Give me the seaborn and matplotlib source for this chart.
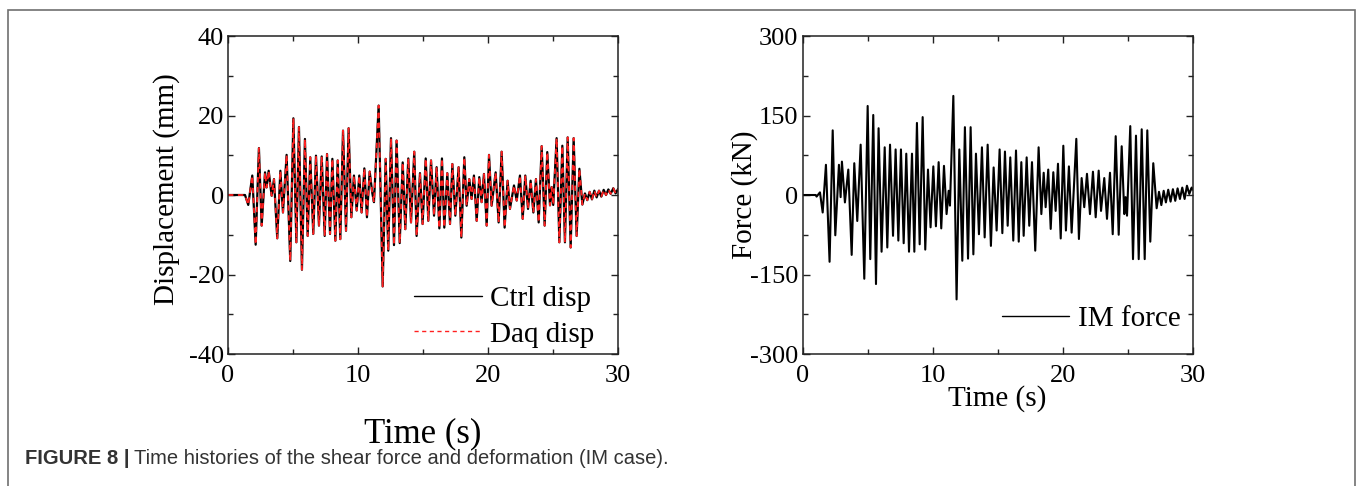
import matplotlib
matplotlib.use("Agg")
import matplotlib.pyplot as plt
import seaborn as sns
from matplotlib.patches import Rectangle
from matplotlib.ticker import MultipleLocator

# displacement history, peaks (s, mm)
disp_time = [0, 1.31, 1.56, 1.87, 2.13, 2.38, 2.59, 2.85, 2.97, 3.13, 3.36, 3.54, 3.79, 4.03, 4.23,
             4.51, 4.79, 5.03, 5.26, 5.46, 5.69, 5.92, 6.13, 6.33, 6.56, 6.77, 7.0, 7.21, 7.44, 7.62,
             7.85, 8.03, 8.26, 8.44, 8.64, 8.85, 9.08, 9.28, 9.49, 9.69, 9.9, 10.1, 10.28, 10.49, 10.69,
             10.9, 11.1, 11.23, 11.59, 11.9, 12.13, 12.33, 12.54, 12.77, 12.97, 13.21, 13.44, 13.64,
             13.87, 14.08, 14.33, 14.51, 14.77, 14.97, 15.21, 15.41, 15.62, 15.85, 16.05, 16.26, 16.46,
             16.64, 16.87, 17.08, 17.26, 17.49, 17.74, 17.95, 18.18, 18.36, 18.56, 18.74, 18.92, 19.13,
             19.33, 19.51, 19.69, 19.9, 20.08, 20.28, 20.59, 20.82, 21.05, 21.28, 21.51, 21.69, 22.0,
             22.21, 22.46, 22.67, 22.87, 23.08, 23.28, 23.49, 23.69, 23.9, 24.13, 24.36, 24.56, 24.77,
             24.9, 25.02, 25.28, 25.49, 25.72, 25.92, 26.13, 26.36, 26.59, 26.82, 27.03, 27.26, 27.46,
             27.64, 27.82, 28.0, 28.18, 28.36, 28.54, 28.72, 28.9, 29.08, 29.26, 29.44, 29.64, 29.82, 30.0]
ctrl_disp = [0, 0, -2.5, 4.9, -12.5, 11.8, -7.7, 5.7, 1.9, 6.1, -0.2, 4.0, -10.9, 6.1, -4.4,
             10.1, -16.6, 19.3, -11.9, 17.1, -18.8, 14.1, -10.3, 9.5, -9.8, 9.9, -7.7, 9.7, -10.3, 10.3,
             -9.8, 9.1, -11.5, 8.7, -11.1, 16.2, -9.0, 16.8, -5.6, 4.9, -3.9, 4.9, -4.4, 6.7, -5.6,
             5.9, 0.5, -1.8, 22.5, -23.0, 9.1, -14.0, 14.3, -12.6, 13.7, -12.1, 8.2, -8.6,
             9.2, -6.9, 10.9, -10.3, 5.5, -7.3, 9.2, -6.5, 8.7, -5.2, 7.0, -8.4, 9.2,
             -8.2, 5.5, -7.3, 7.8, -5.2, 7.0, -10.7, 9.5, -2.7, 4.0, -1.0, 4.9, -6.5,
             4.5, -1.8, 5.3, -7.7, 10.1, -2.7, 5.7, -6.9, 10.9, -8.2, 3.6, -3.5, 2.4,
             -1.4, 4.9, -6.0, 4.9, -3.5, 3.6, -4.4, 4.0, -6.9, 12.3, -7.7, 10.8, -2.6,
             2.0, -2.5, 14.3, -11.9, 12.4, -11.9, 14.5, -13.2, 14.3, -10.3, 6.6, -2.4, 0.4,
             -1.3, 0.8, -1.1, 1.1, -0.6, 1.1, -0.4, 1.3, 0.0, 1.4, 0.3, 1.7, 0.4, 1.5]
daq_disp = list(ctrl_disp)  # measured trace sits on top of the command

# force history, peaks (s, kN)
force_time = [0, 1.0, 1.07, 1.33, 1.54, 1.79, 2.07, 2.31, 2.51, 2.79, 2.92, 3.02, 3.25, 3.51, 3.77,
              3.97, 4.2, 4.46, 4.74, 5.0, 5.2, 5.43, 5.64, 5.84, 6.07, 6.31, 6.51, 6.72, 6.95, 7.15,
              7.36, 7.56, 7.77, 7.97, 8.18, 8.41, 8.59, 8.79, 9.0, 9.23, 9.43, 9.64, 9.84, 10.05, 10.25,
              10.46, 10.66, 10.87, 11.07, 11.23, 11.33, 11.59, 11.84, 12.05, 12.28, 12.48, 12.72, 12.92,
              13.13, 13.33, 13.56, 13.79, 14.0, 14.23, 14.48, 14.69, 14.92, 15.15, 15.36, 15.56, 15.77,
              15.97, 16.2, 16.41, 16.62, 16.82, 17.0, 17.23, 17.43, 17.64, 17.89, 18.15, 18.36, 18.54,
              18.69, 18.89, 19.08, 19.28, 19.46, 19.64, 19.85, 20.05, 20.25, 20.48, 20.69, 21.05, 21.25,
              21.46, 21.66, 21.87, 22.1, 22.33, 22.54, 22.77, 22.95, 23.2, 23.41, 23.64, 23.85, 24.08,
              24.31, 24.54, 24.74, 24.84, 24.95, 25.2, 25.41, 25.64, 25.85, 26.08, 26.31, 26.51, 26.74,
              26.97, 27.23, 27.41, 27.59, 27.77, 27.94, 28.12, 28.3, 28.48, 28.66, 28.84, 29.02, 29.2,
              29.38, 29.56, 29.74, 29.92, 30.0]
im_force = [0, 0, -3, 5, -33, 57, -126, 122, -76, 57, -4, 63, -14, 48, -113,
            60, -49, 95, -158, 168, -121, 151, -168, 126, -107, 90, -99, 95, -77, 86,
            -86, 86, -91, 78, -107, 78, -107, 136, -93, 147, -103, 48, -61, 54, -59,
            62, -63, 55, -36, 8, -20, 187, -197, 86, -124, 128, -120, 128,
            -112, 78, -74, 90, -80, 95, -96, 52, -67, 86, -72, 82, -58,
            71, -86, 84, -88, 62, -77, 71, -58, 62, -105, 90, -36, 42,
            -23, 48, -64, 43, -30, 59, -82, 93, -67, 54, -71, 106, -83,
            32, -23, 40, -36, 44, -42, 46, -30, 32, -45, 42, -74, 111,
            -75, 92, -36, -4, -39, 130, -121, 112, -121, 124, -121, 122, -88,
            60, -25, 6, -19, 8, -14, 10, -12.5, 11, -11, 12.5, -7.5, 14,
            -7.5, 17.5, 2, 14, 10]

sns.set_style("ticks")
plt.rcParams["font.family"] = ["Liberation Serif", "DejaVu Serif"]
plt.rcParams["axes.unicode_minus"] = False
plt.rcParams["text.color"] = "black"
plt.rcParams["axes.labelcolor"] = "black"

fig = plt.figure(figsize=(13.57, 4.86), dpi=100)
ax1 = fig.add_axes([0.168, 0.2716, 0.2874, 0.6543])
ax2 = fig.add_axes([0.5915, 0.2716, 0.2874, 0.6543])

sns.lineplot(x=disp_time, y=ctrl_disp, ax=ax1, color="black", lw=1.6, label="Ctrl disp", estimator=None)
sns.lineplot(x=disp_time, y=daq_disp, ax=ax1, color="#ff2020", lw=1.3, linestyle="--",
             label="Daq disp", estimator=None)
ax1.lines[-1].set_dashes((3, 2.5))
sns.lineplot(x=force_time, y=im_force, ax=ax2, color="black", lw=1.5, label="IM force", estimator=None)

for ax, lim, major, minor in [(ax1, 40, 20, 10), (ax2, 300, 150, 75)]:
    ax.set_xlim(0, 30)
    ax.set_ylim(-lim, lim)
    ax.xaxis.set_major_locator(MultipleLocator(10))
    ax.xaxis.set_minor_locator(MultipleLocator(5))
    ax.yaxis.set_major_locator(MultipleLocator(major))
    ax.yaxis.set_minor_locator(MultipleLocator(minor))
    ax.tick_params(which="both", direction="in", top=True, right=True, colors="#222222",
                   labelcolor="black", width=1.0)
    ax.tick_params(which="major", length=5, labelsize=19)
    ax.tick_params(axis="x", which="major", pad=8)
    ax.tick_params(axis="y", which="major", pad=3)
    ax.tick_params(which="minor", length=3.5)
    for sp in ax.spines.values():
        sp.set_linewidth(1.1)
        sp.set_color("#222222")

ax1.set_xlabel("Time (s)", fontsize=25, va="center")
ax1.xaxis.set_label_coords(0.5, -0.25)
ax1.set_ylabel("Displacement (mm)", fontsize=21, va="center")
ax1.yaxis.set_label_coords(-0.158, 0.52)

ax2.set_xlabel("Time (s)", fontsize=21, va="center")
ax2.xaxis.set_label_coords(0.5, -0.14)
ax2.set_ylabel("Force (kN)", fontsize=21, va="center")
ax2.yaxis.set_label_coords(-0.15, 0.5)

ax1.legend(loc="lower right", bbox_to_anchor=(0.94, 0.02), frameon=False, fontsize=21,
           handlelength=2.3, handletextpad=0.3, labelspacing=0.3, borderpad=0, borderaxespad=0)
for h in ax1.get_legend().get_lines():
    h.set_linewidth(1.0)
ax2.legend(loc="lower right", bbox_to_anchor=(0.97, 0.07), frameon=False, fontsize=21,
           handlelength=2.3, handletextpad=0.3, borderpad=0, borderaxespad=0)
ax2.get_legend().get_lines()[0].set_linewidth(1.0)

# outer frame of the figure panel
fig.patches.append(Rectangle((8 / 1357, -0.05), 1347 / 1357, 1.05 - 10 / 486, transform=fig.transFigure,
                             fill=False, edgecolor="#707070", lw=1.2))

cap_font = ["Liberation Sans", "DejaVu Sans"]
cap1 = fig.text(25 / 1357, 1 - 458 / 486, "FIGURE 8 |", fontsize=14.5, fontweight="bold",
                family=cap_font, va="center", color="#333333")
renderer = fig.canvas.get_renderer()
bb = cap1.get_window_extent(renderer)
fig.text((bb.x1 + 4) / 1357, 1 - 458 / 486, "Time histories of the shear force and deformation (IM case).",
         fontsize=14.5, family=cap_font, va="center", color="#333333")

fig.savefig("out.png", dpi=100)
